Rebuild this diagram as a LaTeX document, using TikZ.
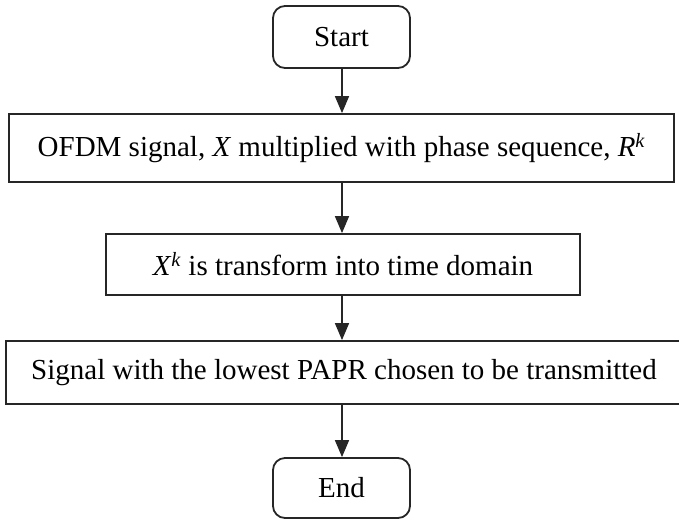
\documentclass[tikz,border=0pt]{standalone}
\usepackage{fontspec}
\setmainfont{Liberation Serif}
\usetikzlibrary{arrows.meta}
\begin{document}
\begin{tikzpicture}[x=1pt,y=-1pt,
  every node/.style={font=\fontsize{29}{33}\selectfont, inner sep=0pt, align=center},
  term/.style={draw=black!85, line width=1.8pt, rounded corners=12pt, minimum width=137pt, minimum height=62pt},
  proc/.style={draw=black!85, line width=1.8pt, minimum height=#1},
  flow/.style={draw=black!85, line width=1.6pt, -{Triangle[length=17pt,width=14pt]}}]
\useasboundingbox (0,0) rectangle (679,520);
\node[term] (start) at (341.5,37) {Start};
\node[proc=68pt, minimum width=665pt] (b2) at (341.5,148) {OFDM signal, \textit{X} multiplied with phase sequence, \textit{R}\textsuperscript{\textit{k}}};
\node[proc=61pt, minimum width=474pt] (b3) at (343,264.5) {\textit{X}\textsuperscript{\textit{k}} is transform into time domain};
\node[proc=63pt, minimum width=676pt] (b4) at (344,372.5) {Signal with the lowest PAPR chosen to be transmitted};
\node[term, minimum height=60pt] (end) at (341.5,488) {End};
\draw[flow] (start.south -| 342,0) -- (b2.north -| 342,0);
\draw[flow] (b2.south -| 342,0) -- (b3.north -| 342,0);
\draw[flow] (b3.south -| 342,0) -- (b4.north -| 342,0);
\draw[flow] (b4.south -| 342,0) -- (end.north -| 342,0);
\end{tikzpicture}
\end{document}
